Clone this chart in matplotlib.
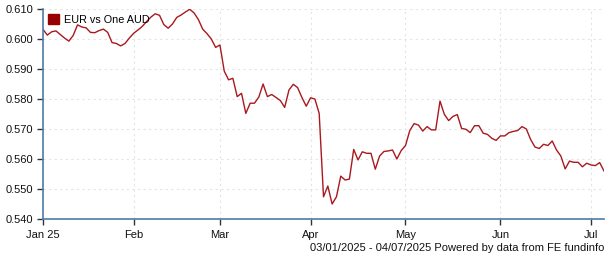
import matplotlib
matplotlib.use("Agg")
import matplotlib.pyplot as plt
import matplotlib.patches as mpatches
import pandas as pd

plt.rcParams['font.family'] = ['Liberation Sans', 'DejaVu Sans']

# weekday series, 03/01/2025 - 04/07/2025
dates = pd.bdate_range("2025-01-03", "2025-07-04")

rate = [
    0.6032, 0.6013, 0.6024, 0.6027, 0.6015, 0.6003, 0.5993, 0.6012, 0.6047, 0.6040,
    0.6037, 0.6022, 0.6021, 0.6028, 0.6033, 0.6022, 0.5988, 0.5985, 0.5977, 0.5985,
    0.6003, 0.6019, 0.6030, 0.6042, 0.6058, 0.6073, 0.6084, 0.6079, 0.6048, 0.6036,
    0.6050, 0.6072, 0.6080, 0.6090, 0.6099, 0.6087, 0.6065, 0.6033, 0.6018, 0.6000,
    0.5972, 0.5980, 0.5893, 0.5864, 0.5869, 0.5808, 0.5819, 0.5752, 0.5786, 0.5786,
    0.5806, 0.5850, 0.5808, 0.5815, 0.5805, 0.5795, 0.5772, 0.5830, 0.5849, 0.5838,
    0.5805, 0.5776, 0.5804, 0.5800, 0.5752, 0.5474, 0.5510, 0.5450, 0.5474, 0.5543,
    0.5530, 0.5533, 0.5632, 0.5597, 0.5624, 0.5619, 0.5619, 0.5566, 0.5610, 0.5625,
    0.5627, 0.5630, 0.5600, 0.5628, 0.5645, 0.5695, 0.5718, 0.5713, 0.5693, 0.5708,
    0.5697, 0.5697, 0.5793, 0.5749, 0.5728, 0.5742, 0.5748, 0.5702, 0.5699, 0.5688,
    0.5711, 0.5711, 0.5686, 0.5682, 0.5669, 0.5662, 0.5677, 0.5677, 0.5688, 0.5692,
    0.5695, 0.5708, 0.5700, 0.5665, 0.5640, 0.5635, 0.5649, 0.5645, 0.5660, 0.5630,
    0.5610, 0.5567, 0.5593, 0.5589, 0.5589, 0.5574, 0.5586, 0.5580, 0.5578, 0.5588,
    0.5560,
]

month_labels = ["Jan 25", "Feb", "Mar", "Apr", "May", "Jun", "Jul"]
yticks = [0.540, 0.550, 0.560, 0.570, 0.580, 0.590, 0.600, 0.610]

x = list(range(len(rate)))

# first trading day of each month -> tick position
tick_pos = []
seen = set()
for i, d in enumerate(dates):
    if d.month not in seen:
        seen.add(d.month)
        tick_pos.append(i)

fig = plt.figure(figsize=(6.05, 2.6), dpi=100)
ax = fig.add_axes([43 / 605, 41 / 260, 561 / 605, 210 / 260])

ax.plot(x, rate, color="#a8191e", lw=1.0)

ax.set_xlim(0, len(rate) - 1)
ax.set_ylim(0.540, 0.610)
ax.set_yticks(yticks)
ax.set_yticklabels([f"{v:.3f}" for v in yticks])
ax.set_xticks(tick_pos)
ax.set_xticklabels(month_labels)

ax.grid(True, color="#e4e4e4", ls=(0, (2, 3)), lw=0.8)
ax.set_axisbelow(True)
for s in ["top", "right"]:
    ax.spines[s].set_visible(False)
for s in ["left", "bottom"]:
    ax.spines[s].set_color("#4f7cac")
    ax.spines[s].set_linewidth(1.2)
ax.tick_params(axis="both", direction="out", length=4, width=1, color="#333333",
               labelsize=8, labelcolor="#111111", pad=3)
ax.tick_params(axis="x", pad=4)

patch = mpatches.Patch(color="#990000", label="EUR vs One AUD")
ax.legend(handles=[patch], loc="upper left", frameon=False, fontsize=7.8,
          handlelength=0.95, handleheight=0.95, handletextpad=0.45,
          borderaxespad=0.1, bbox_to_anchor=(0.0, 1.0))

fig.text(604 / 605, 12 / 260, "03/01/2025 - 04/07/2025 Powered by data from FE fundinfo",
         ha="right", va="center", fontsize=8, color="#111111")

fig.savefig("out.png", dpi=100)
